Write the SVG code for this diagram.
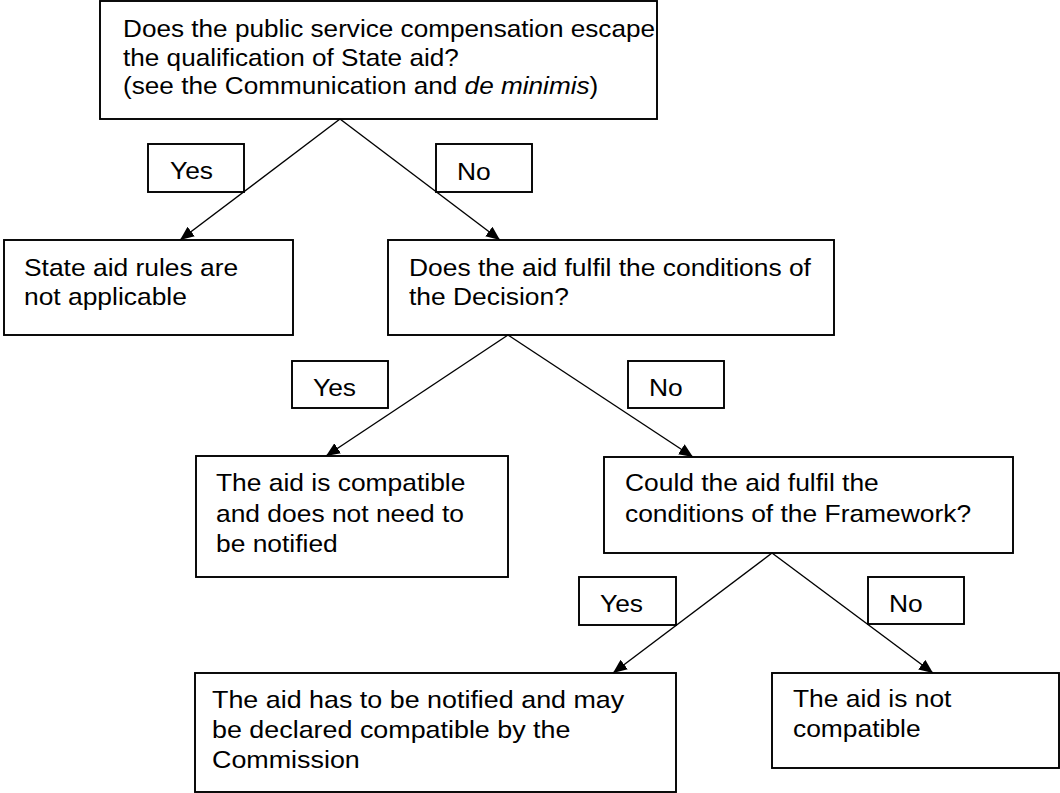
<svg xmlns="http://www.w3.org/2000/svg" width="1060" height="793" viewBox="0 0 1060 793">
<style>
.box{fill:#fff;stroke:#000;stroke-width:1.9}
.lbl{fill:none;stroke:#000;stroke-width:1.9}
.t{font-family:"Liberation Sans",Arial,sans-serif;font-size:24px;fill:#000}
.c{stroke:#000;stroke-width:1.4;fill:none;marker-end:url(#ah)}
</style>
<defs>
<marker id="ah" markerUnits="userSpaceOnUse" markerWidth="14" markerHeight="12" refX="14" refY="6" orient="auto">
<path d="M0,0 L14,6 L0,12 z" fill="#000"/>
</marker>
</defs>
<rect width="1060" height="793" fill="#fff"/>
<g id="q1">
<rect class="box" x="100" y="1" width="557" height="118"/>
<text class="t" transform="translate(123,37) scale(1.09,1)">Does the public service compensation escape</text>
<text class="t" transform="translate(123,65.5) scale(1.09,1)">the qualification of State aid?</text>
<text class="t" transform="translate(123,94) scale(1.09,1)">(see the Communication and <tspan font-style="italic">de minimis</tspan>)</text>
</g>
<g id="r1">
<rect class="box" x="4" y="240" width="289" height="95"/>
<text class="t" transform="translate(24,276) scale(1.1,1)">State aid rules are</text>
<text class="t" transform="translate(24,305) scale(1.1,1)">not applicable</text>
</g>
<g id="q2">
<rect class="box" x="388" y="240" width="446" height="95"/>
<text class="t" transform="translate(409,276) scale(1.1,1)">Does the aid fulfil the conditions of</text>
<text class="t" transform="translate(409,305) scale(1.1,1)">the Decision?</text>
</g>
<g id="r2">
<rect class="box" x="196" y="456" width="312" height="121"/>
<text class="t" transform="translate(216,491) scale(1.1,1)">The aid is compatible</text>
<text class="t" transform="translate(216,522) scale(1.1,1)">and does not need to</text>
<text class="t" transform="translate(216,552) scale(1.1,1)">be notified</text>
</g>
<g id="q3">
<rect class="box" x="604" y="457" width="409" height="96"/>
<text class="t" transform="translate(625,491) scale(1.1,1)">Could the aid fulfil the</text>
<text class="t" transform="translate(625,522) scale(1.1,1)">conditions of the Framework?</text>
</g>
<g id="r3">
<rect class="box" x="195" y="673" width="481" height="119"/>
<text class="t" transform="translate(212,708) scale(1.12,1)">The aid has to be notified and may</text>
<text class="t" transform="translate(212,738) scale(1.12,1)">be declared compatible by the</text>
<text class="t" transform="translate(212,768) scale(1.12,1)">Commission</text>
</g>
<g id="r4">
<rect class="box" x="772" y="673" width="287" height="95"/>
<text class="t" transform="translate(793,707) scale(1.1,1)">The aid is not</text>
<text class="t" transform="translate(793,737) scale(1.1,1)">compatible</text>
</g>
<g id="labels">
<g id="yes1"><rect class="lbl" x="148" y="144" width="96" height="48"/><text class="t" transform="translate(170,179) scale(1.1,1)">Yes</text></g>
<g id="no1"><rect class="lbl" x="436" y="144" width="96" height="48"/><text class="t" transform="translate(457,180) scale(1.1,1)">No</text></g>
<g id="yes2"><rect class="lbl" x="292" y="361" width="96" height="47"/><text class="t" transform="translate(313,396) scale(1.1,1)">Yes</text></g>
<g id="no2"><rect class="lbl" x="628" y="361" width="96" height="47"/><text class="t" transform="translate(649,396) scale(1.1,1)">No</text></g>
<g id="yes3"><rect class="lbl" x="579" y="577" width="97" height="48"/><text class="t" transform="translate(600,612) scale(1.1,1)">Yes</text></g>
<g id="no3"><rect class="lbl" x="868" y="577" width="96" height="47"/><text class="t" transform="translate(889,612) scale(1.1,1)">No</text></g>
</g>
<g id="connectors">
<line class="c" x1="340" y1="119" x2="180" y2="240"/>
<line class="c" x1="340" y1="119" x2="500" y2="240"/>
<line class="c" x1="508" y1="335" x2="326" y2="456"/>
<line class="c" x1="508" y1="335" x2="693" y2="457"/>
<line class="c" x1="772" y1="553" x2="613" y2="673"/>
<line class="c" x1="772" y1="553" x2="933" y2="673"/>
</g>
</svg>
